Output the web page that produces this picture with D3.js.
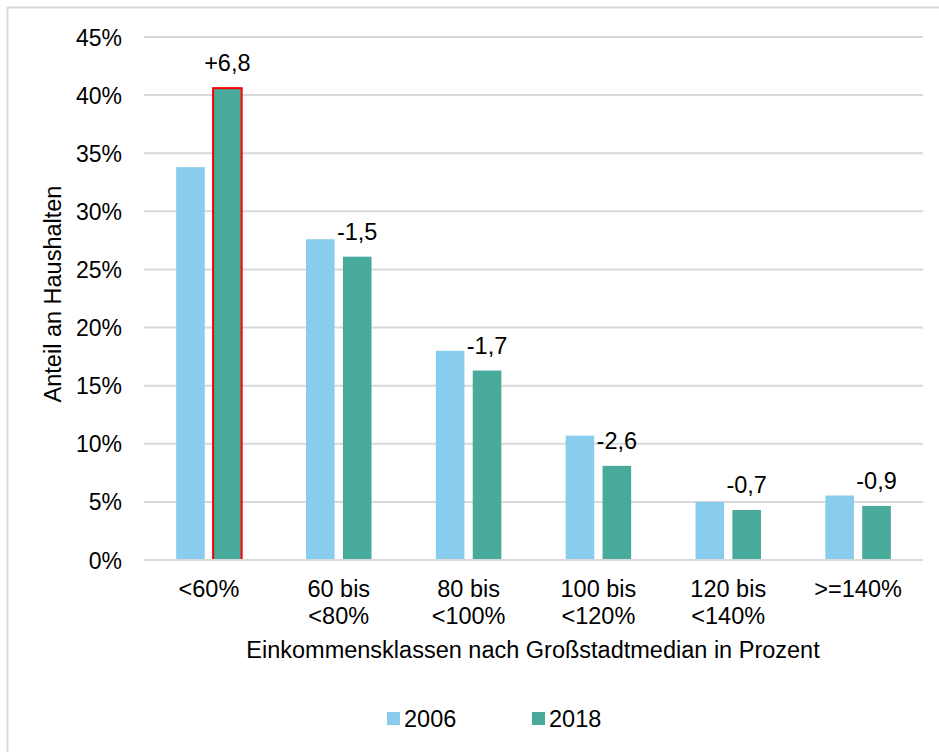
<!DOCTYPE html>
<html>
<head>
<meta charset="utf-8">
<script src="https://cdn.jsdelivr.net/npm/d3@7"></script>
<style>
  body { margin: 0; background: #fff; }
  text { font-family: "Liberation Sans", Arial, sans-serif; fill: #000; }
</style>
</head>
<body>
<div id="chart"></div>
<script>
// categories (two-line tick labels) and series values in percent
var categories = ["<60%", "60 bis\n<80%", "80 bis\n<100%", "100 bis\n<120%", "120 bis\n<140%", ">=140%"];
var seriesNames = ["2006", "2018"];
var values2006 = [33.8, 27.6, 18.0, 10.7, 5.0, 5.55];
var values2018 = [40.6, 26.1, 16.3, 8.1, 4.3, 4.65];
var changeLabels = ["+6,8", "-1,5", "-1,7", "-2,6", "-0,7", "-0,9"];
var yTicks = [0, 5, 10, 15, 20, 25, 30, 35, 40, 45];

var colors = { "2006": "#89cdee", "2018": "#47aa9a" };

var width = 939, height = 752;
var margin = { top: 37, right: 16, bottom: 192, left: 144 };
var fs = 23.5;

var svg = d3.select("#chart").append("svg")
    .attr("width", width)
    .attr("height", height);

// outer frame
svg.append("rect")
    .attr("x", 7.5).attr("y", 7.5)
    .attr("width", width + 10).attr("height", height + 10)
    .attr("fill", "none")
    .attr("stroke", "#d9d9d9")
    .attr("stroke-width", 2);

var x0 = d3.scaleBand()
    .domain(categories)
    .range([margin.left, width - margin.right]);

var x1 = d3.scaleBand()
    .domain(seriesNames)
    .range([0, 65.5])
    .paddingInner(0.225);

var y = d3.scaleLinear()
    .domain([0, 45])
    .range([height - margin.bottom, margin.top]);

// gridlines
svg.append("g")
    .selectAll("line")
    .data(yTicks)
    .enter().append("line")
    .attr("x1", margin.left)
    .attr("x2", width - margin.right)
    .attr("y1", function(d){ return y(d); })
    .attr("y2", function(d){ return y(d); })
    .attr("stroke", "#d9d9d9")
    .attr("stroke-width", 2);

// y axis labels
var yAxis = d3.axisLeft(y)
    .tickValues(yTicks)
    .tickSize(0)
    .tickPadding(22)
    .tickFormat(function(d){ return d + "%"; });

var yg = svg.append("g")
    .attr("transform", "translate(" + margin.left + ",0)")
    .call(yAxis);
yg.select(".domain").remove();
yg.selectAll("text")
    .attr("font-size", 23)
    .attr("dy", "0.35em");

// bars
var rows = categories.map(function(c, i){
    return { cat: c, i: i, vals: [values2006[i], values2018[i]] };
});

var groups = svg.append("g")
    .selectAll("g")
    .data(rows)
    .enter().append("g")
    .attr("transform", function(d){
        return "translate(" + (x0(d.cat) + x0.bandwidth() / 2 - 32.75) + ",0)";
    });

groups.selectAll("rect")
    .data(function(d){
        return seriesNames.map(function(s, k){ return { s: s, v: d.vals[k], i: d.i }; });
    })
    .enter().append("rect")
    .attr("x", function(d){ return x1(d.s); })
    .attr("y", function(d){ return y(d.v); })
    .attr("width", x1.bandwidth())
    .attr("height", function(d){ return y(0) - y(d.v); })
    .attr("fill", function(d){ return colors[d.s]; })
    .attr("stroke", function(d){ return (d.i === 0 && d.s === "2018") ? "#ff0000" : "none"; })
    .attr("stroke-width", 2);

// change labels above 2018 bars
groups.append("text")
    .attr("x", x1("2018") + x1.bandwidth() / 2)
    .attr("y", function(d){ return y(d.vals[1]) - 17; })
    .attr("text-anchor", "middle")
    .attr("font-size", fs)
    .text(function(d, i){ return changeLabels[i]; });

// x axis line
svg.append("line")
    .attr("x1", margin.left)
    .attr("x2", width - margin.right)
    .attr("y1", y(0))
    .attr("y2", y(0))
    .attr("stroke", "#d9d9d9")
    .attr("stroke-width", 2);

// x tick labels
var xl = svg.append("g")
    .selectAll("text")
    .data(categories)
    .enter().append("text")
    .attr("x", function(d){ return x0(d) + x0.bandwidth() / 2; })
    .attr("y", y(0) + 37)
    .attr("text-anchor", "middle")
    .attr("font-size", fs);

xl.selectAll("tspan")
    .data(function(d){ return d.split("\n"); })
    .enter().append("tspan")
    .attr("x", function(){ return this.parentNode.getAttribute("x"); })
    .attr("dy", function(d, i){ return i === 0 ? 0 : 27; })
    .text(function(d){ return d; });

// axis titles
svg.append("text")
    .attr("x", 533)
    .attr("y", 658)
    .attr("text-anchor", "middle")
    .attr("font-size", fs)
    .text("Einkommensklassen nach Großstadtmedian in Prozent");

svg.append("text")
    .attr("transform", "translate(61,294) rotate(-90)")
    .attr("text-anchor", "middle")
    .attr("font-size", fs)
    .text("Anteil an Haushalten");

// legend
var legend = svg.append("g")
    .selectAll("g")
    .data(seriesNames)
    .enter().append("g")
    .attr("transform", function(d, i){ return "translate(" + (387 + i * 145) + ",712)"; });

legend.append("rect")
    .attr("width", 13)
    .attr("height", 13)
    .attr("fill", function(d){ return colors[d]; });

legend.append("text")
    .attr("x", 17)
    .attr("y", 15)
    .attr("font-size", fs)
    .text(function(d){ return d; });
</script>
</body>
</html>
